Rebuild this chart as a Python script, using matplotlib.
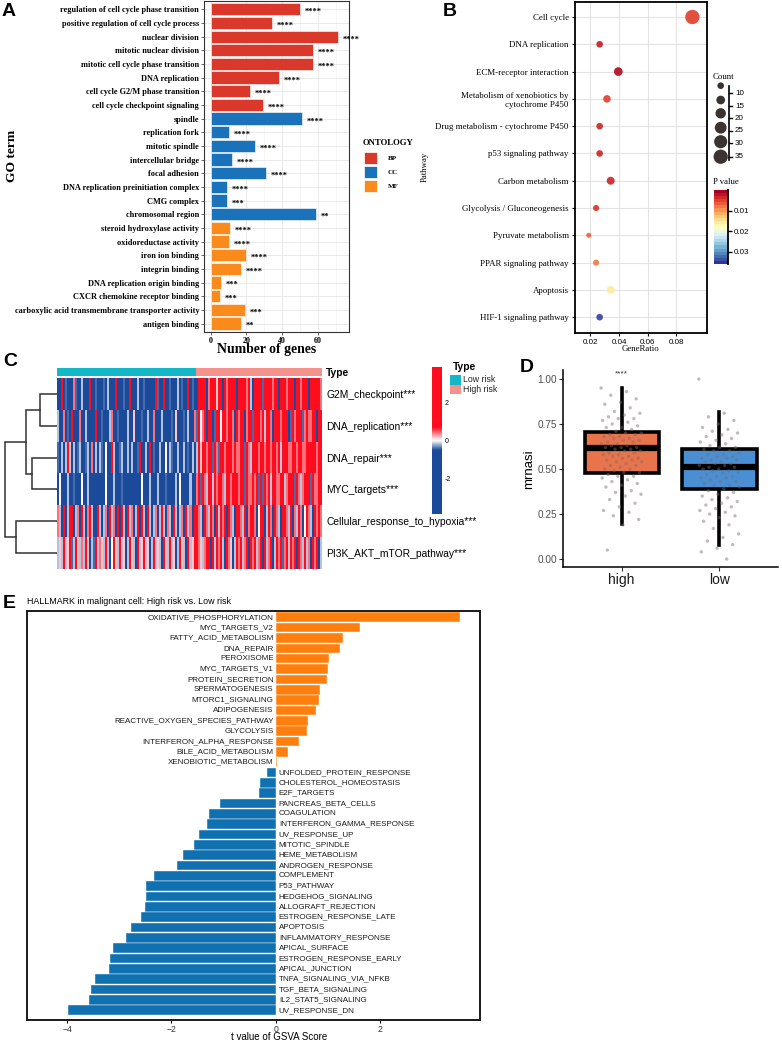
import matplotlib
matplotlib.use("Agg")
import matplotlib.pyplot as plt
import numpy as np
from matplotlib.colors import LinearSegmentedColormap, ListedColormap, Normalize
from matplotlib.patches import Rectangle

# ---------------- data: panel A (GO) ----------------
go_terms = ["regulation of cell cycle phase transition", "positive regulation of cell cycle process",
            "nuclear division", "mitotic nuclear division", "mitotic cell cycle phase transition",
            "DNA replication", "cell cycle G2/M phase transition", "cell cycle checkpoint signaling",
            "spindle", "replication fork", "mitotic spindle", "intercellular bridge", "focal adhesion",
            "DNA replication preinitiation complex", "CMG complex", "chromosomal region",
            "steroid hydroxylase activity", "oxidoreductase activity", "iron ion binding",
            "integrin binding", "DNA replication origin binding", "CXCR chemokine receptor binding",
            "carboxylic acid transmembrane transporter activity", "antigen binding"]
go_counts = [50, 34, 71, 57, 57, 38, 22, 29, 51, 10, 25, 12, 31, 9, 9, 59, 11, 10, 20, 17, 6, 5, 19, 17]
go_ontology = ["BP"] * 8 + ["CC"] * 8 + ["MF"] * 8
go_signif = ["****"] * 14 + ["***", "**"] + ["****"] * 4 + ["***"] * 3 + ["**"]
ontology_levels = ["BP", "CC", "MF"]

# ---------------- data: panel B (KEGG) ----------------
kegg_pathways = ["Cell cycle", "DNA replication", "ECM-receptor interaction",
                 "Metabolism of xenobiotics by\ncytochrome P450", "Drug metabolism - cytochrome P450",
                 "p53 signaling pathway", "Carbon metabolism", "Glycolysis / Gluconeogenesis",
                 "Pyruvate metabolism", "PPAR signaling pathway", "Apoptosis", "HIF-1 signaling pathway"]
kegg_ratio = [0.0911, 0.0264, 0.0394, 0.0315, 0.0264, 0.0264, 0.0341, 0.0239, 0.0188, 0.0239, 0.0341, 0.0264]
kegg_count = [35, 10, 15, 12, 10, 10, 13, 9, 7, 9, 13, 10]
kegg_p = [0.0047, 0.0025, 0.0010, 0.0047, 0.0030, 0.0030, 0.0030, 0.0040, 0.0065, 0.0080, 0.0155, 0.0350]
count_breaks = [10, 15, 20, 25, 30, 35]
p_breaks = [0.01, 0.02, 0.03]

# ---------------- data: panel C (heatmap) ----------------
hm_rows = ["G2M_checkpoint***", "DNA_replication***", "DNA_repair***", "MYC_targets***",
           "Cellular_response_to_hypoxia***", "PI3K_AKT_mTOR_pathway***"]
hm_low = [
    "00601000510" "02000600100" "01020006000" "10060002001" "00000610060" "01000201006" "010",
    "20050106000" "50020000600" "10002500100" "00200400010" "02005000200" "00104000102" "005",
    "10202640201" "20012050202" "10300620012" "00202001600" "20601002003" "02100200201" "020",
    "03000200100" "03002000000" "00300020001" "00000000030" "00200020001" "00002030000" "200",
    "52060266025" "06205620062" "02506250606" "20625026062" "06202502620" "52062025062" "506",
    "24262461264" "25264021625" "42620364262" "40264206246" "24026242064" "26240264206" "246",
]
hm_high = [
    "06666056664" "66065666606" "66656206666" "16666566066" "65666066566" "60666665",
    "16356066016" "63665665065" "66056616665" "62665066656" "66016566615" "65566066",
    "26466566165" "16656665655" "66165266656" "65665665626" "66556656655" "66666566",
    "56165266265" "66526656665" "66165565616" "16562665566" "25666165256" "66165566",
    "65206526506" "26560652066" "52605665036" "60265065206" "65260526503" "65206565",
    "65425660626" "56206540265" "62560656256" "06256026561" "56265606526" "25065602",
]
hm_level_values = [-3.0, -0.42, -0.18, 0.0, 0.18, 0.42, 3.0]
# dendrogram merges (child_a, child_b, height); leaves 0..5, new clusters 6..
dendro_merges = [(0, 1, 17), (2, 3, 25), (6, 7, 31), (4, 5, 41), (8, 9, 52)]
risk_types = ["Low risk", "High risk"]

# ---------------- data: panel D (boxplot) ----------------
box_groups = ["high", "low"]
box_q1 = [0.480, 0.387]
box_med = [0.615, 0.510]
box_q3 = [0.708, 0.610]
box_whislo = [0.193, 0.076]
box_whishi = [0.948, 0.815]
high_pts = [0.95, 0.93, 0.91, 0.89, 0.87, 0.86, 0.84, 0.82, 0.81, 0.80, 0.79, 0.78, 0.78, 0.77, 0.76,
            0.75, 0.74, 0.73, 0.73, 0.72, 0.71, 0.70, 0.70, 0.69, 0.69, 0.68, 0.68, 0.67, 0.67, 0.66,
            0.66, 0.65, 0.65, 0.64, 0.64, 0.63, 0.63, 0.62, 0.62, 0.62, 0.61, 0.61, 0.60, 0.60, 0.59,
            0.59, 0.58, 0.58, 0.57, 0.57, 0.56, 0.56, 0.55, 0.55, 0.54, 0.54, 0.53, 0.52, 0.52, 0.51,
            0.50, 0.50, 0.49, 0.48, 0.48, 0.47, 0.46, 0.46, 0.45, 0.44, 0.43, 0.42, 0.41, 0.40, 0.38,
            0.37, 0.36, 0.35, 0.33, 0.31, 0.29, 0.27, 0.26, 0.24, 0.22, 0.19, 0.05]
low_pts = [1.00, 0.81, 0.79, 0.77, 0.75, 0.73, 0.72, 0.71, 0.70, 0.69, 0.68, 0.67, 0.66, 0.65, 0.64,
           0.63, 0.62, 0.62, 0.61, 0.60, 0.60, 0.59, 0.58, 0.58, 0.57, 0.57, 0.56, 0.56, 0.55, 0.55,
           0.54, 0.54, 0.53, 0.53, 0.52, 0.52, 0.51, 0.51, 0.50, 0.50, 0.49, 0.49, 0.48, 0.48, 0.47,
           0.46, 0.46, 0.45, 0.45, 0.44, 0.43, 0.43, 0.42, 0.41, 0.41, 0.40, 0.39, 0.38, 0.37, 0.36,
           0.35, 0.34, 0.33, 0.32, 0.31, 0.30, 0.29, 0.28, 0.27, 0.26, 0.25, 0.24, 0.23, 0.21, 0.19,
           0.17, 0.14, 0.12, 0.10, 0.08, 0.06, 0.04, 0.00]

# ---------------- data: panel E (hallmark) ----------------
hm_terms = ["OXIDATIVE_PHOSPHORYLATION", "MYC_TARGETS_V2", "FATTY_ACID_METABOLISM", "DNA_REPAIR",
            "PEROXISOME", "MYC_TARGETS_V1", "PROTEIN_SECRETION", "SPERMATOGENESIS", "MTORC1_SIGNALING",
            "ADIPOGENESIS", "REACTIVE_OXYGEN_SPECIES_PATHWAY", "GLYCOLYSIS", "INTERFERON_ALPHA_RESPONSE",
            "BILE_ACID_METABOLISM", "XENOBIOTIC_METABOLISM", "UNFOLDED_PROTEIN_RESPONSE",
            "CHOLESTEROL_HOMEOSTASIS", "E2F_TARGETS", "PANCREAS_BETA_CELLS", "COAGULATION",
            "INTERFERON_GAMMA_RESPONSE", "UV_RESPONSE_UP", "MITOTIC_SPINDLE", "HEME_METABOLISM",
            "ANDROGEN_RESPONSE", "COMPLEMENT", "P53_PATHWAY", "HEDGEHOG_SIGNALING", "ALLOGRAFT_REJECTION",
            "ESTROGEN_RESPONSE_LATE", "APOPTOSIS", "INFLAMMATORY_RESPONSE", "APICAL_SURFACE",
            "ESTROGEN_RESPONSE_EARLY", "APICAL_JUNCTION", "TNFA_SIGNALING_VIA_NFKB", "TGF_BETA_SIGNALING",
            "IL2_STAT5_SIGNALING", "UV_RESPONSE_DN"]
hm_tvalue = [3.53, 1.62, 1.29, 1.23, 1.02, 1.00, 0.985, 0.86, 0.83, 0.77, 0.63, 0.60, 0.44, 0.23, 0.03,
             -0.17, -0.30, -0.32, -1.07, -1.27, -1.31, -1.47, -1.57, -1.77, -1.89, -2.34, -2.49, -2.49,
             -2.51, -2.58, -2.77, -2.88, -3.12, -3.18, -3.19, -3.47, -3.54, -3.59, -3.98]
e_ticks = [-4, -2, 0, 2]

# ---------------- figure ----------------
W, H = 782, 1041
fig = plt.figure(figsize=(W / 100, H / 100), dpi=100)
SERIF = "Liberation Serif"
SANS = "Liberation Sans"


def ax_px(l, t, r, b, **kw):
    return fig.add_axes([l / W, 1 - b / H, (r - l) / W, (b - t) / H], **kw)


# ======== Panel A ========
axA = ax_px(204, 1, 349, 332)
ont_colors = {"BP": "#D9382A", "CC": "#1A73BA", "MF": "#FA8A1C"}
yA = np.arange(len(go_terms))
axA.barh(yA, go_counts, height=0.9, color=[ont_colors[o] for o in go_ontology],
         edgecolor="white", linewidth=0.4, zorder=2)
for y, c, s in zip(yA, go_counts, go_signif):
    axA.text(c + 2.6, y + 0.2, s, fontsize=6, fontfamily=SERIF, fontweight="bold",
             va="center", ha="left", zorder=3)
axA.set_ylim(23.62, -0.61)
axA.set_xlim(-3.75, 77.3)
axA.set_yticks(yA)
axA.set_yticklabels(go_terms, fontfamily=SERIF, fontweight="bold", fontsize=5.95)
axA.set_xticks([0, 20, 40, 60])
axA.set_xticklabels(["0", "20", "40", "60"], fontfamily=SERIF, fontweight="bold", fontsize=5.8)
axA.set_xticks([10, 30, 50, 70], minor=True)
axA.grid(True, which="major", color="#E6E6E6", lw=0.6)
axA.grid(True, which="minor", axis="x", color="#EFEFEF", lw=0.4)
axA.set_axisbelow(True)
for sp in axA.spines.values():
    sp.set_color("#333333")
    sp.set_linewidth(0.8)
axA.tick_params(axis="both", which="major", length=2, width=0.5, color="#333333", pad=1.5)
axA.tick_params(which="minor", length=0)

# ======== Panel B ========
axB = ax_px(575, 2, 707, 333)
cmapB = plt.get_cmap("RdYlBu")
normB = Normalize(0, 0.036)


def dot_area(c):
    d = np.sqrt(max(6.4 * c - 20, 4))
    return (d * 0.72) ** 2


yB = np.arange(len(kegg_pathways))
axB.scatter(kegg_ratio, yB, s=[dot_area(c) for c in kegg_count], c=kegg_p, cmap=cmapB, norm=normB,
            alpha=0.92, edgecolors="none", zorder=3)
axB.set_ylim(11.58, -0.55)
axB.set_xlim(0.0092, 0.1013)
axB.set_yticks(yB)
axB.set_yticklabels(kegg_pathways, fontfamily=SERIF, fontsize=6.4)
axB.set_xticks([0.02, 0.04, 0.06, 0.08])
axB.set_xticklabels(["0.02", "0.04", "0.06", "0.08"], fontfamily=SANS, fontsize=5.8)
axB.grid(True, color="#E3E3E3", lw=0.8)
axB.set_axisbelow(True)
for sp in axB.spines.values():
    sp.set_color("black")
    sp.set_linewidth(1.3)
axB.tick_params(length=2.5, width=0.8, color="black", pad=2)

# P value colorbar
axBc = ax_px(714, 190, 727.5, 264)
pgrid = np.linspace(0, 0.036, 24)[:, None]
axBc.imshow(pgrid, cmap=cmapB, norm=normB, aspect="auto", extent=[0, 1, 0.036, 0],
            interpolation="nearest")
axBc.set_ylim(0.036, 0)
axBc.set_xticks([])
axBc.yaxis.tick_right()
axBc.set_yticks(p_breaks)
axBc.set_yticklabels([f"{p:.2f}" for p in p_breaks], fontfamily=SANS, fontsize=5.8)
axBc.tick_params(axis="y", length=3, width=1, color="black", pad=1.5)
for k, sp in axBc.spines.items():
    sp.set_visible(k == "right")
axBc.spines["right"].set_linewidth(1.3)

# ======== Panel C ========
cmapC = LinearSegmentedColormap.from_list(
    "hm", [(0, "#1B4A9B"), (0.435, "#1B4A9B"), (0.5, "#FFFFFF"), (0.59, "#FF0D1F"), (1, "#FF0D1F")])
hm_matrix = np.array([[hm_level_values[int(ch)] for ch in (lo + hi)] for lo, hi in zip(hm_low, hm_high)])
n_low = len(hm_low[0])
n_high = len(hm_high[0])
axC = ax_px(57, 378, 322, 569)
axC.imshow(hm_matrix, cmap=cmapC, vmin=-3.9, vmax=3.9, aspect="auto", interpolation="nearest")
axC.set_xticks([])
axC.yaxis.tick_right()
axC.set_yticks(np.arange(len(hm_rows)))
axC.set_yticklabels(hm_rows, fontfamily=SANS, fontsize=7.4)
axC.tick_params(axis="y", length=0, pad=3)
for sp in axC.spines.values():
    sp.set_visible(False)

# annotation bar
axCa = ax_px(57, 368, 322, 376)
type_codes = np.array([[0] * n_low + [1] * n_high])
type_cmap = ListedColormap(["#13B8C7", "#F4928B"])
axCa.imshow(type_codes, cmap=type_cmap, vmin=0, vmax=1, aspect="auto", interpolation="nearest")
axCa.set_xticks([])
axCa.yaxis.tick_right()
axCa.set_yticks([0])
axCa.set_yticklabels(["Type"], fontfamily=SANS, fontsize=7.4, fontweight="bold")
axCa.tick_params(axis="y", length=0, pad=3)
for sp in axCa.spines.values():
    sp.set_visible(False)

# dendrogram
axD0 = ax_px(4, 378, 57, 569)
pos = {i: float(i) for i in range(len(hm_rows))}
hgt = {i: 0.0 for i in range(len(hm_rows))}
nid = len(hm_rows)
for a, b, h in dendro_merges:
    axD0.plot([hgt[a], h, h, hgt[b]], [pos[a], pos[a], pos[b], pos[b]], color="#333333", lw=1.1,
              solid_joinstyle="miter")
    pos[nid] = (pos[a] + pos[b]) / 2
    hgt[nid] = h
    nid += 1
axD0.set_ylim(5.5, -0.5)
axD0.set_xlim(53, 0)
axD0.axis("off")

# heatmap colorbar
axCc = ax_px(431.7, 367, 441.7, 514)
axCc.imshow(np.linspace(3.9, -3.9, 300)[:, None], cmap=cmapC, vmin=-3.9, vmax=3.9, aspect="auto",
            extent=[0, 1, -3.9, 3.9])
axCc.set_xticks([])
axCc.yaxis.tick_right()
axCc.set_yticks([2, 0, -2])
axCc.set_yticklabels(["2", "0", "-2"], fontfamily=SANS, fontsize=5)
axCc.tick_params(axis="y", length=0, pad=2)
for sp in axCc.spines.values():
    sp.set_visible(False)

# ======== Panel D ========
axD = ax_px(563, 370, 778, 567)
box_colors = ["#E8744B", "#4A8FD4"]
stats = [dict(med=m, q1=a, q3=b, whislo=lo, whishi=hi, fliers=[], label=g)
         for g, m, a, b, lo, hi in zip(box_groups, box_med, box_q1, box_q3, box_whislo, box_whishi)]
bp = axD.bxp(stats, positions=[0, 1], widths=0.76, patch_artist=True, showcaps=False, showfliers=False,
             boxprops=dict(linewidth=2.6, edgecolor="black"),
             whiskerprops=dict(linewidth=2.6, color="black"),
             medianprops=dict(linewidth=4.5, color="black", solid_capstyle="butt"))
for patch, col in zip(bp["boxes"], box_colors):
    patch.set_facecolor(col)
    patch.set_zorder(2)
for w in bp["whiskers"]:
    w.set_zorder(1.5)
for i, pts in enumerate([high_pts, low_pts]):
    n = len(pts)
    offs = (((np.arange(n) * 0.6180339887) % 1.0) - 0.5) * 0.42
    axD.scatter(i + offs, pts, s=6, color="#7A6A6A", alpha=0.45, edgecolors="none", zorder=3)
axD.text(0, 1.03, "****", ha="center", va="center", fontsize=6, fontfamily=SANS, color="#333333")
axD.set_xlim(-0.6, 1.6)
axD.set_ylim(-0.044, 1.05)
axD.set_yticks([0, 0.25, 0.5, 0.75, 1.0])
axD.set_yticklabels(["0.00", "0.25", "0.50", "0.75", "1.00"], fontfamily=SANS, fontsize=7.2, color="#4D4D4D")
axD.set_xticks([0, 1])
axD.set_xticklabels(box_groups, fontfamily=SANS, fontsize=10, color="#1A1A1A")
axD.spines["top"].set_visible(False)
axD.spines["right"].set_visible(False)
axD.spines["left"].set_linewidth(1.1)
axD.spines["bottom"].set_linewidth(1.1)
axD.tick_params(length=3, width=0.8, color="#333333", pad=1.5)

# ======== Panel E ========
axE = ax_px(27, 611, 480, 1020)
yE = np.arange(len(hm_terms))
colE = ["#FF7F0E" if v > 0 else "#1170B0" for v in hm_tvalue]
axE.barh(yE, hm_tvalue, height=0.93, color=colE, edgecolor="white", linewidth=0.3)
for y, v, t in zip(yE, hm_tvalue, hm_terms):
    if v > 0:
        axE.text(-0.04, y, t, ha="right", va="center", fontsize=5.8, fontfamily=SANS, color="#1A1A1A")
    else:
        axE.text(0.06, y, t, ha="left", va="center", fontsize=5.8, fontfamily=SANS, color="#1A1A1A")
axE.set_ylim(len(hm_terms) - 1 + 0.94, -0.61)
axE.set_xlim(-4.77, 3.92)
axE.set_yticks([])
axE.set_xticks(e_ticks)
axE.set_xticklabels([str(t) if t >= 0 else "\u2212" + str(-t) for t in e_ticks], fontfamily=SANS,
                    fontsize=6.2, color="#333333")
for sp in axE.spines.values():
    sp.set_linewidth(1.4)
    sp.set_color("#1A1A1A")
axE.tick_params(axis="x", length=2.5, width=0.8, pad=0.8)

# ======== overlay: titles, legends, panel letters ========
ov = fig.add_axes([0, 0, 1, 1], zorder=20)
ov.set_xlim(0, W)
ov.set_ylim(H, 0)
ov.axis("off")
ov.patch.set_alpha(0)

for letter, (x, y) in zip("ABCDE", [(2, 11.5), (443, 11.5), (3, 362), (520, 367), (3, 603)]):
    ov.text(x, y, letter, fontsize=14, fontweight="bold", fontfamily=SANS, ha="left", va="center")

# Panel A labels and legend
ov.text(12, 156, "GO term", rotation=90, fontsize=9.7, fontweight="bold", fontfamily=SERIF,
        ha="center", va="center")
ov.text(267, 350, "Number of genes", fontsize=9.9, fontweight="bold", fontfamily=SERIF,
        ha="center", va="center")
ov.text(363, 143, "ONTOLOGY", fontsize=6.3, fontweight="bold", fontfamily=SERIF, ha="left", va="center")
for i, o in enumerate(ontology_levels):
    top = 152 + i * 14.2
    ov.add_patch(Rectangle((364, top), 13, 12, facecolor=ont_colors[o], edgecolor="white", lw=0.5))
    ov.text(388, top + 6, o, fontsize=5, fontweight="bold", fontfamily=SERIF, ha="left", va="center")

# Panel B labels and count legend
ov.text(425, 167, "Pathway", rotation=90, fontsize=6.3, fontfamily=SERIF, ha="center", va="center")
ov.text(641, 349, "GeneRatio", fontsize=6.3, fontfamily=SERIF, ha="center", va="center")
ov.text(713, 77, "Count", fontsize=6.3, fontfamily=SERIF, ha="left", va="center")
circ_y = [85.7, 100, 113.3, 127.7, 141.7, 156.7]
lab_y = [93.3, 106, 118.3, 131, 143.3, 156.7]
ov.scatter([720.7] * len(count_breaks), circ_y, s=[dot_area(c) for c in count_breaks], color="#3A3330",
           edgecolors="none")
ov.plot([729.3, 729.3], [86, 160], color="black", lw=1.2)
for yl, c in zip(lab_y, count_breaks):
    ov.plot([729.3, 732.3], [yl, yl], color="black", lw=1.0)
    ov.text(735, yl, str(c), fontsize=5.8, fontfamily=SANS, ha="left", va="center")
ov.text(713, 182, "P value", fontsize=6.3, fontfamily=SERIF, ha="left", va="center")

# Panel C type legend
ov.text(453, 367, "Type", fontsize=7.4, fontweight="bold", fontfamily=SANS, ha="left", va="center")
for i, (lab, col) in enumerate(zip(risk_types, ["#13B8C7", "#F4928B"])):
    top = 375 + i * 9.5
    ov.add_patch(Rectangle((450, top), 10.7, 9.5, facecolor=col, edgecolor="none"))
    ov.text(462.7, top + 4.8, lab, fontsize=6.3, fontfamily=SANS, ha="left", va="center", color="#222222")

# Panel D y label
ov.text(529, 469, "mrnasi", rotation=90, fontsize=9.5, fontfamily=SANS, ha="center", va="center")

# Panel E title and x label
ov.text(27, 602, "HALLMARK in malignant cell: High risk vs. Low risk", fontsize=6.4, fontfamily=SANS,
        ha="left", va="center")
ov.text(279, 1037.5, "t value of GSVA Score", fontsize=7, fontfamily=SANS, ha="center", va="center")

fig.savefig("out.png", dpi=100)
